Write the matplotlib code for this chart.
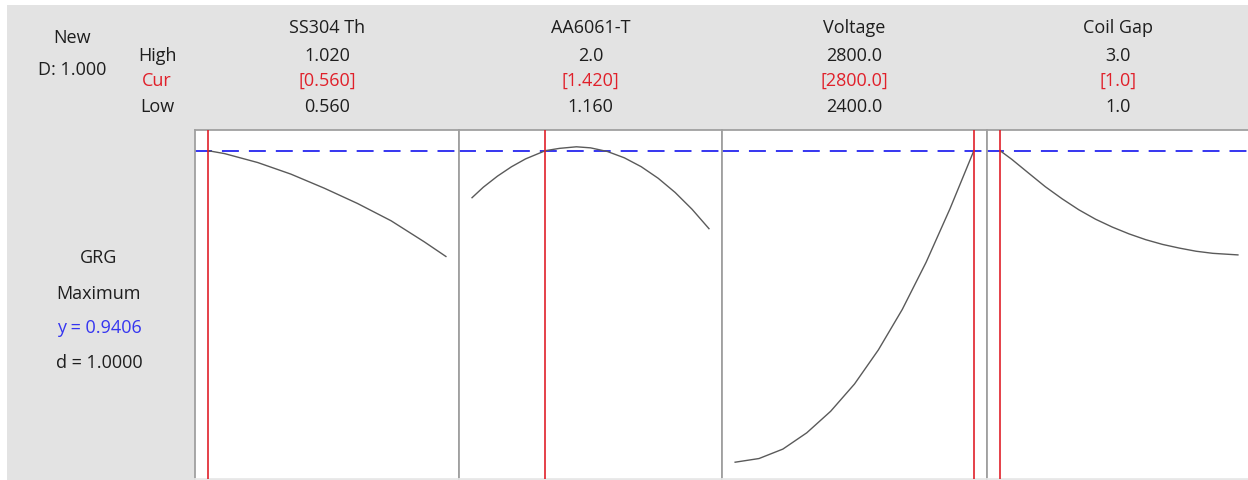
import matplotlib.pyplot as plt
from matplotlib.patches import Rectangle

plt.rcParams['font.family'] = ['Open Sans', 'DejaVu Sans']
plt.rcParams['lines.scale_dashes'] = False

# optimizer settings
factors = ['SS304 Th', 'AA6061-T', 'Voltage', 'Coil Gap']
low = [0.560, 1.160, 2400.0, 1.0]
high = [1.020, 2.0, 2800.0, 3.0]
cur = [0.560, 1.420, 2800.0, 1.0]
high_lbl = ['1.020', '2.0', '2800.0', '3.0']
cur_lbl = ['[0.560]', '[1.420]', '[2800.0]', '[1.0]']
low_lbl = ['0.560', '1.160', '2400.0', '1.0']

y_opt = 0.9406
d_opt = 1.0

# predicted GRG along each factor
ss_x = [0.560, 0.592, 0.656, 0.720, 0.785, 0.849, 0.914, 0.978, 1.020]
ss_y = [0.9406, 0.935, 0.918, 0.896, 0.869, 0.840, 0.807, 0.767, 0.739]
aa_x = [1.16, 1.20, 1.25, 1.30, 1.35, 1.42, 1.47, 1.53, 1.58, 1.64, 1.70, 1.76, 1.82, 1.88, 1.94, 2.00]
aa_y = [0.851, 0.871, 0.892, 0.910, 0.925, 0.9406, 0.945, 0.948, 0.946, 0.939, 0.927, 0.910, 0.888, 0.861, 0.829, 0.792]
v_x = [2400, 2440, 2480, 2520, 2560, 2600, 2640, 2680, 2720, 2760, 2800]
v_y = [0.347, 0.354, 0.372, 0.403, 0.444, 0.496, 0.561, 0.638, 0.728, 0.830, 0.9406]
cg_x = [1.0, 1.099, 1.239, 1.380, 1.521, 1.662, 1.803, 1.944, 2.085, 2.225, 2.366, 2.507, 2.648, 2.789, 3.0]
cg_y = [0.9406, 0.924, 0.898, 0.872, 0.849, 0.828, 0.810, 0.795, 0.782, 0.771, 0.762, 0.755, 0.749, 0.745, 0.742]
curves = [(ss_x, ss_y), (aa_x, aa_y), (v_x, v_y), (cg_x, cg_y)]

W, H = 1248, 480
fig = plt.figure(figsize=(W / 100, H / 100), dpi=100, facecolor='white')

def fx(px):
    return px / W

def fy(py):
    return 1 - py / H

bg = '#e3e3e3'
fig.patches.append(Rectangle((fx(7), 0), 1 - fx(7), fy(5), transform=fig.transFigure,
                             facecolor=bg, edgecolor='none', zorder=-10))

txt = '#1e1e1e'
red = '#e0202a'
blue = '#3535f0'
fs = 13

edges = [195, 459, 722, 987, 1251]
top, bot = 130, 479
pad = 0.055

for i, (xs, ys) in enumerate(curves):
    ax = fig.add_axes([fx(edges[i]), fy(bot), fx(edges[i + 1] - edges[i]), (bot - top) / H])
    ax.set_facecolor('white')
    rng = high[i] - low[i]
    ax.set_xlim(low[i] - pad * rng, high[i] + pad * rng)
    ax.set_ylim(0.315, 0.980)
    ax.set_xticks([])
    ax.set_yticks([])
    for s in ax.spines.values():
        s.set_color('#a0a0a0')
        s.set_linewidth(1.3)
    ax.spines['bottom'].set_color('#e8e8e8')
    ax.plot(xs, ys, color='#5a5a5a', lw=1.0, zorder=3)
    ax.axhline(y_opt, color=blue, lw=1.4, dashes=(12.2, 7.2), zorder=2)
    ax.axvline(cur[i], color=red, lw=1.2, zorder=4)

    cx = (edges[i] + min(edges[i + 1], 1249)) / 2
    fig.text(fx(cx), fy(33), factors[i], ha='center', va='baseline', fontsize=fs, color=txt)
    fig.text(fx(cx), fy(61), high_lbl[i], ha='center', va='baseline', fontsize=fs, color=txt)
    fig.text(fx(cx), fy(86), cur_lbl[i], ha='center', va='baseline', fontsize=fs, color=red)
    fig.text(fx(cx), fy(112), low_lbl[i], ha='center', va='baseline', fontsize=fs, color=txt)

# left-hand labels
fig.text(fx(72), fy(43), 'New', ha='center', va='baseline', fontsize=fs, color=txt)
fig.text(fx(72), fy(75), 'D: %.3f' % d_opt, ha='center', va='baseline', fontsize=fs, color=txt)
fig.text(fx(157), fy(61), 'High', ha='center', va='baseline', fontsize=fs, color=txt)
fig.text(fx(157), fy(86), 'Cur', ha='center', va='baseline', fontsize=fs, color=red)
fig.text(fx(157), fy(112), 'Low', ha='center', va='baseline', fontsize=fs, color=txt)

fig.text(fx(99), fy(263), 'GRG', ha='center', va='baseline', fontsize=fs, color=txt)
fig.text(fx(99), fy(299), 'Maximum', ha='center', va='baseline', fontsize=fs, color=txt)
fig.text(fx(99), fy(333), 'y = %.4f' % y_opt, ha='center', va='baseline', fontsize=fs, color=blue)
fig.text(fx(99), fy(368), 'd = %.4f' % d_opt, ha='center', va='baseline', fontsize=fs, color=txt)

fig.savefig('out.png', dpi=100, facecolor=fig.get_facecolor())
